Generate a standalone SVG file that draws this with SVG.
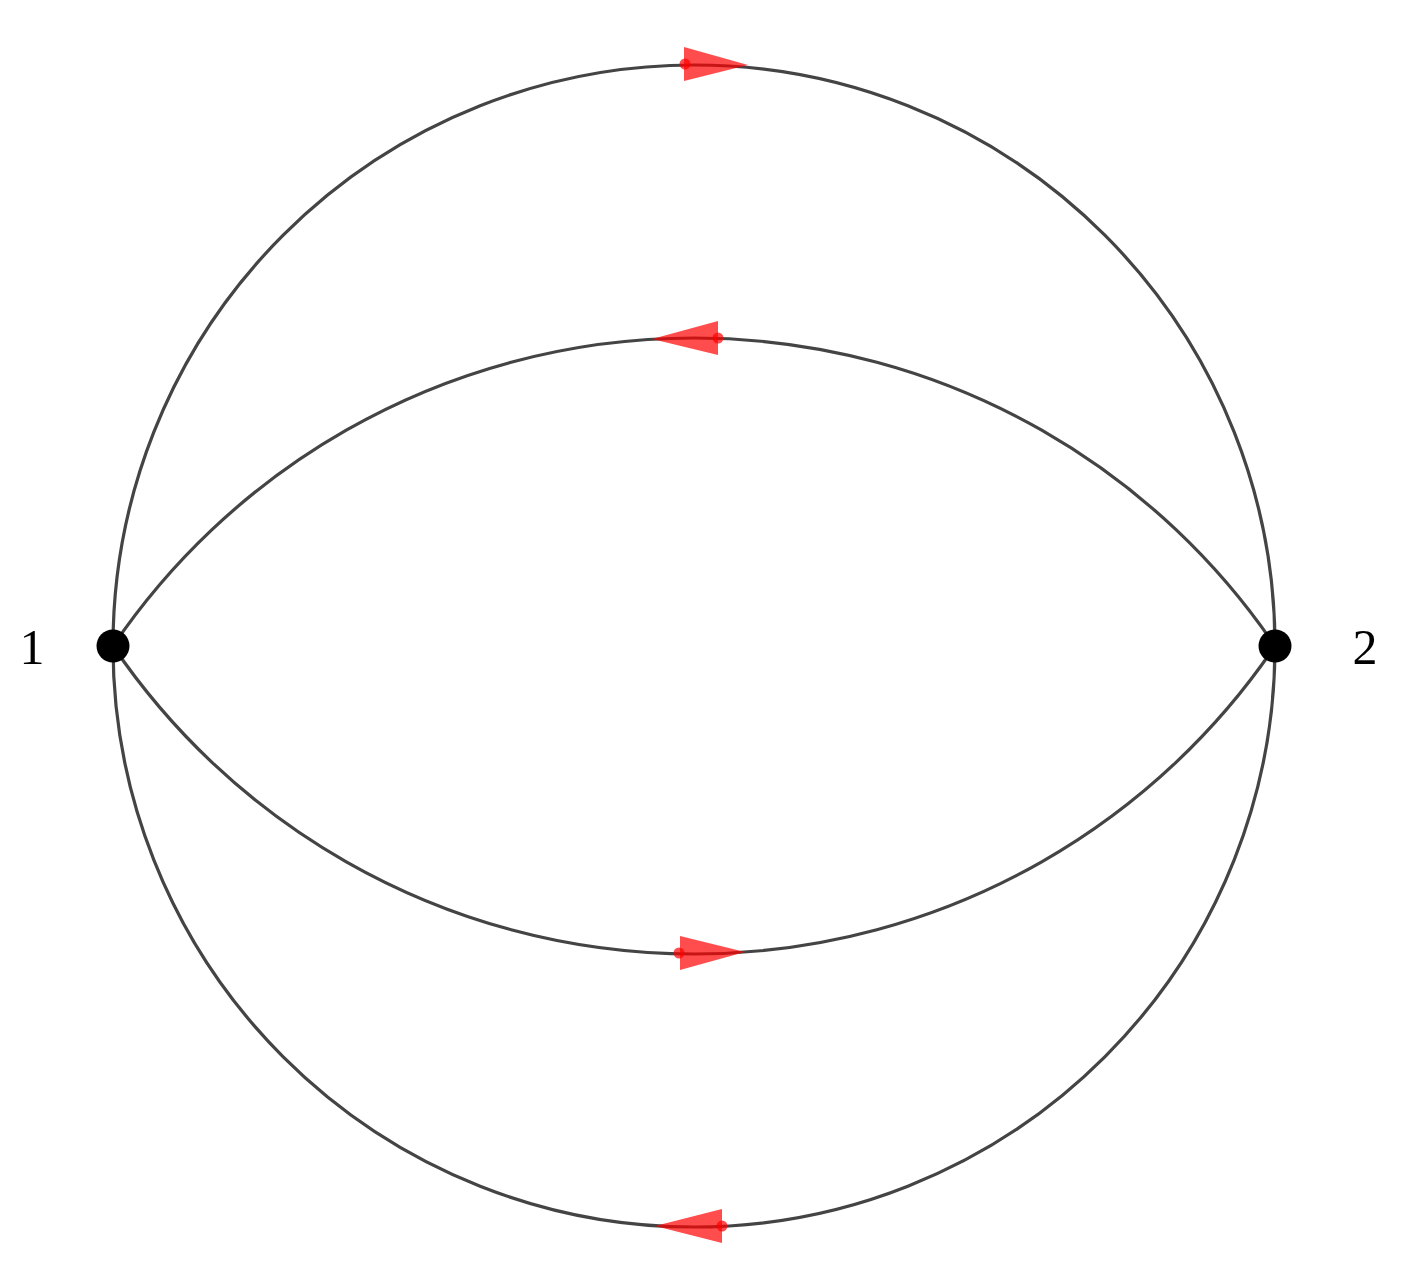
<svg xmlns="http://www.w3.org/2000/svg" width="1414" height="1277" viewBox="0 0 1414 1277">
<style>
.edge{fill:none;stroke:#444;stroke-width:3.2}
.arrow{fill:#ff0000;fill-opacity:0.7}
.node{fill:#000}
.lbl{font-family:"Liberation Serif","DejaVu Serif",serif;font-size:50px;fill:#000;text-anchor:middle}
</style>
<rect width="1414" height="1277" fill="#fff"/>
<g id="connectors">
<path class="edge" d="M113 646 A581 581 0 0 1 1275 646"/>
<path class="edge" d="M113 646 A581 581 0 0 0 1275 646"/>
<path class="edge" d="M113 646 A702 702 0 0 1 1275 646"/>
<path class="edge" d="M113 646 A702 702 0 0 0 1275 646"/>
<g id="arrow-top-outer"><polygon class="arrow" points="684,47 748,65 684,81"/><circle class="arrow" cx="685" cy="64" r="5.5"/></g>
<g id="arrow-top-inner"><polygon class="arrow" points="718,321 652,339 718,355"/><circle class="arrow" cx="718" cy="338" r="5.5"/></g>
<g id="arrow-bottom-inner"><polygon class="arrow" points="680,936 745,952 680,970"/><circle class="arrow" cx="679" cy="953" r="5.5"/></g>
<g id="arrow-bottom-outer"><polygon class="arrow" points="722,1209 655,1226 722,1243"/><circle class="arrow" cx="722" cy="1226" r="5.5"/></g>
</g>
<g id="node-1"><circle class="node" cx="113" cy="646" r="16.5"/><text class="lbl" x="32" y="664">1</text></g>
<g id="node-2"><circle class="node" cx="1275" cy="646" r="16.5"/><text class="lbl" x="1365" y="664">2</text></g>
</svg>
